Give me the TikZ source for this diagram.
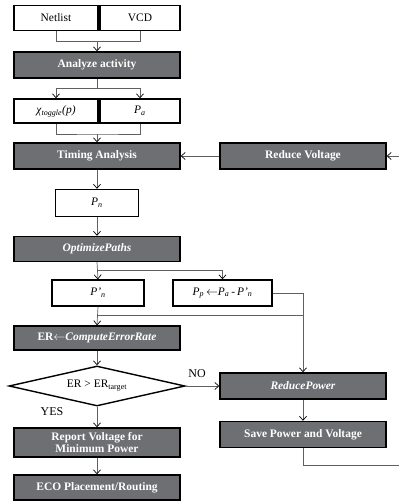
\documentclass[tikz,border=0pt]{standalone}
\usepackage{fontspec}
\setmainfont{Liberation Serif}
\usetikzlibrary{arrows.meta,shapes.geometric}
\definecolor{boxgray}{HTML}{6E6F72}
\definecolor{linegray}{HTML}{606060}
\tikzset{
  basebox/.style={draw=black, line width=1.4bp, inner sep=0pt, minimum height=25bp, font=\fontsize{11.5}{13}\selectfont, align=center},
  darkbox/.style={basebox, fill=boxgray, text=white, font=\fontsize{11.5}{13}\selectfont\bfseries},
  whitebox/.style={basebox, fill=white, text=black},
  conn/.style={draw=linegray, line width=0.7bp},
  arr/.style={conn, -{Straight Barb[length=4bp,width=7bp,line width=0.7bp,color=black]}},
  lbl/.style={inner sep=0pt, font=\fontsize{12}{13}\selectfont}
}
\begin{document}
\begin{tikzpicture}[x=1bp,y=-1bp]
\useasboundingbox (0,0) rectangle (398,503);
% nodes
\node[whitebox, minimum width=84bp] (netlist) at (56,18) {Netlist};
\node[whitebox, minimum width=80bp] (vcd) at (140,18) {VCD};
\node[darkbox, minimum width=166bp, minimum height=26bp] (analyze) at (97,65) {Analyze activity};
\node[whitebox, minimum width=84bp, minimum height=24bp] (chi) at (56,111) {\textit{χ}\textsubscript{\textit{toggle}}\textit{(p)}};
\node[whitebox, minimum width=80bp, minimum height=24bp] (pa) at (140,111) {\textit{P}\textsubscript{\textit{a}}};
\node[darkbox, minimum width=166bp, minimum height=26bp] (timing) at (97,156) {Timing Analysis};
\node[darkbox, minimum width=166bp, minimum height=26bp] (redv) at (303,156) {Reduce Voltage};
\node[whitebox, minimum width=83bp, minimum height=27bp] (pn) at (97,203) {\textit{P}\textsubscript{\textit{n}}};
\node[darkbox, minimum width=166bp] (opt) at (97,249) {\textit{OptimizePaths}};
\node[whitebox, minimum width=92bp, minimum height=26bp] (pnp) at (98,293) {\textit{P'}\textsubscript{\textit{n}}};
\node[whitebox, minimum width=99bp, minimum height=26bp] (pp) at (222.5,293) {\textit{P}\textsubscript{\textit{p}}\,$\leftarrow$\textit{P}\textsubscript{\textit{a}}\,-\,\textit{P'}\textsubscript{\textit{n}}};
\node[darkbox, minimum width=166bp, minimum height=24bp] (er) at (97,338) {ER$\leftarrow$\textit{ComputeErrorRate}};
\node[draw=black, line width=1.4bp, fill=white, diamond, aspect=4.35, inner sep=0pt, minimum width=176bp, minimum height=40bp, font=\fontsize{11.5}{13}\selectfont] (dia) at (97,386) {ER > ER\textsubscript{target}};
\node[darkbox, minimum width=166bp, minimum height=29bp, font=\fontsize{11.5}{12.5}\selectfont\bfseries] (report) at (97,442.5) {Report Voltage for\\Minimum Power};
\node[darkbox, minimum width=166bp] (eco) at (97,487.5) {ECO Placement/Routing};
\node[darkbox, minimum width=166bp, minimum height=26bp] (redp) at (303,386) {\textit{ReducePower}};
\node[darkbox, minimum width=166bp, minimum height=26bp] (save) at (303,434.5) {Save Power and Voltage};
\node[lbl] (no) at (197,374) {NO};
\node[lbl] (yes) at (52,412) {YES};
% junction coordinates
\coordinate (j1) at (97,41.7);
\coordinate (j2) at (97,88);
\coordinate (j3) at (97,134);
\coordinate (j4) at (97,270);
\coordinate (j5) at (97,315);
\coordinate (j6) at (303,315);
\coordinate (j7) at (303,465);
\coordinate (j8) at (400,465);
\coordinate (j9) at (400,156);
% connectors
\draw[conn] (netlist.south) |- (j1) -| (vcd.south);
\draw[arr] (j1) -- (analyze.north);
\draw[conn] (analyze.south) -- (j2);
\draw[arr] (j2) -| (chi.north);
\draw[arr] (j2) -| (pa.north);
\draw[conn] (chi.south) |- (j3) -| (pa.south);
\draw[arr] (j3) -- (timing.north);
\draw[arr] (timing.south) -- (pn.north);
\draw[arr] (pn.south) -- (opt.north);
\draw[arr] (redv.west) -- (timing.east);
\draw[arr] (opt.south) -- (pnp.north);
\draw[arr] (j4) -| (pp.north);
\draw[arr] (pnp.south) -- (er.north);
\draw[conn] (j5) -- (j6);
\draw[arr] (pp.east) -| (redp.north);
\draw[arr] (er.south) -- (dia.north);
\draw[arr] (dia.east) -- (redp.west);
\draw[arr] (dia.south) -- (report.north);
\draw[arr] (report.south) -- (eco.north);
\draw[arr] (redp.south) -- (save.north);
\draw[conn] (save.south) -- (j7) -- (j8) -- (j9);
\draw[arr] (j9) -- (redv.east);
\end{tikzpicture}
\end{document}
